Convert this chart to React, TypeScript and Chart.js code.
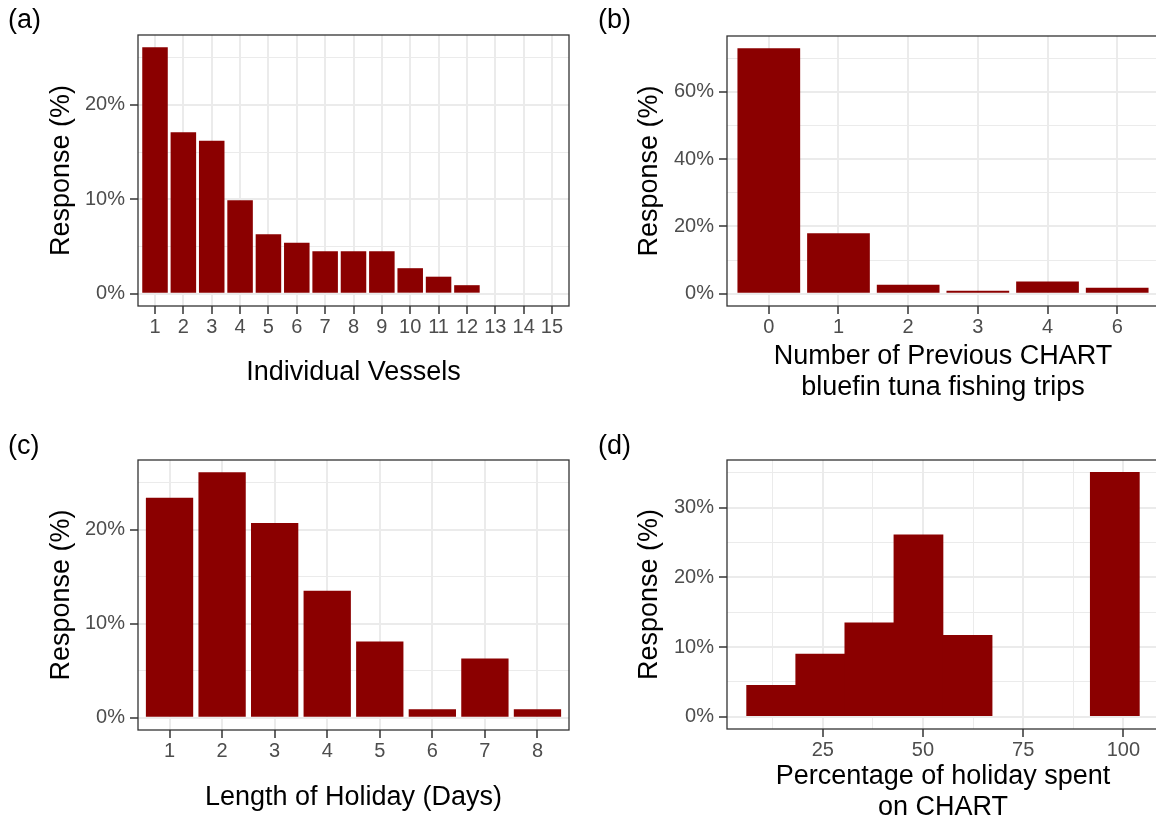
import React, { useEffect, useRef } from 'react';
import { Chart, registerables } from 'chart.js';

Chart.register(...registerables);

const FONT = '"Liberation Sans", Arial, Helvetica, sans-serif';
const BAR_COLOR = '#8B0000';
const TICK_COLOR = '#4D4D4D';
const GRID_COLOR = '#EBEBEB';
const LINE_COLOR = '#333333';

// (a) Individual Vessels
const vesselCategories = ['1', '2', '3', '4', '5', '6', '7', '8', '9', '10', '11', '12', '13', '14', '15'];
const vesselResponse = [26.1, 17.1, 16.2, 9.9, 6.3, 5.4, 4.5, 4.5, 4.5, 2.7, 1.8, 0.9, 0, 0, 0];
const vesselYMajor = [0, 10, 20];
const vesselYMinor = [5, 15, 25];

// (b) Number of previous CHART bluefin tuna fishing trips
const tripCategories = ['0', '1', '2', '3', '4', '6'];
const tripResponse = [73.0, 18.0, 2.7, 0.9, 3.6, 1.8];
const tripYMajor = [0, 20, 40, 60];
const tripYMinor = [10, 30, 50, 70];

// (c) Length of holiday (days)
const holidayCategories = ['1', '2', '3', '4', '5', '6', '7', '8'];
const holidayResponse = [23.4, 26.1, 20.7, 13.5, 8.1, 0.9, 6.3, 0.9];
const holidayYMajor = [0, 10, 20];
const holidayYMinor = [5, 15, 25];

// (d) Percentage of holiday spent on CHART (histogram)
const shareBinCenters = [12.125, 24.375, 36.625, 48.875, 61.125, 73.375, 85.625, 97.875];
const shareResponse = [4.5, 9.0, 13.5, 26.1, 11.7, 0, 0, 35.1];
const shareXMajor = [25, 50, 75, 100];
const shareXMinor = [12.5, 37.5, 62.5, 87.5];
const shareYMajor = [0, 10, 20, 30];
const shareYMinor = [5, 15, 25, 35];

type Layout = {
  key: string;
  panelLabel: string;
  left: number;
  top: number;
  width: number;
  height: number;
  padTop: number;
  padRight: number;
  yAxisWidth: number;
  xAxisHeight: number;
  xTitle: string | string[];
  xTitlePad: number;
  yTitlePad: number;
  labelLeft: number;
  labelTop: number;
};

const boxPlugin = {
  id: 'panelBox',
  afterDraw(chart: any) {
    const { ctx, chartArea } = chart;
    ctx.save();
    ctx.strokeStyle = LINE_COLOR;
    ctx.lineWidth = 1.3;
    ctx.strokeRect(chartArea.left, chartArea.top, chartArea.right - chartArea.left, chartArea.bottom - chartArea.top);
    ctx.restore();
  },
};

const barFill = (ctx: any) => (ctx.raw && ctx.raw.y === 0 ? 'rgba(0,0,0,0)' : BAR_COLOR);

function yScale(major: number[], minor: number[], values: number[], L: Layout) {
  const vmax = Math.max(...values);
  const min = -vmax * 0.05;
  const max = vmax * 1.05;
  return {
    type: 'linear',
    position: 'left',
    min,
    max,
    afterBuildTicks: (axis: any) => {
      axis.ticks = [...major, ...minor]
        .filter((v) => v >= min && v <= max)
        .sort((a, b) => a - b)
        .map((v) => ({ value: v }));
    },
    afterFit: (axis: any) => {
      axis.width = L.yAxisWidth;
    },
    ticks: {
      callback: (v: any) => (major.includes(v) ? `${v}%` : ''),
      color: TICK_COLOR,
      font: { size: 20, family: FONT },
      padding: 5,
      autoSkip: false,
    },
    grid: {
      color: GRID_COLOR,
      lineWidth: (ctx: any) => (ctx.tick && major.includes(ctx.tick.value) ? 2 : 1),
      tickColor: (ctx: any) => (ctx.tick && major.includes(ctx.tick.value) ? LINE_COLOR : 'rgba(0,0,0,0)'),
      tickWidth: 1.5,
      tickLength: 8,
      drawTicks: true,
    },
    border: { display: false },
    title: {
      display: true,
      text: 'Response (%)',
      color: '#000',
      font: { size: 27, family: FONT, lineHeight: 1.15 },
      padding: { top: L.yTitlePad, bottom: 0 },
    },
  };
}

function xScale(
  min: number,
  max: number,
  major: number[],
  minor: number[],
  label: (v: number) => string,
  L: Layout
) {
  return {
    type: 'linear',
    position: 'bottom',
    min,
    max,
    offset: false,
    afterBuildTicks: (axis: any) => {
      axis.ticks = [...major, ...minor]
        .filter((v) => v >= min && v <= max)
        .sort((a, b) => a - b)
        .map((v) => ({ value: v }));
    },
    afterFit: (axis: any) => {
      axis.height = L.xAxisHeight;
    },
    ticks: {
      callback: (v: any) => (major.includes(v) ? label(v) : ''),
      color: TICK_COLOR,
      font: { size: 20, family: FONT },
      padding: 1,
      autoSkip: false,
      maxRotation: 0,
      minRotation: 0,
    },
    grid: {
      offset: false,
      color: GRID_COLOR,
      lineWidth: (ctx: any) => (ctx.tick && major.includes(ctx.tick.value) ? 2 : 1),
      tickColor: (ctx: any) => (ctx.tick && major.includes(ctx.tick.value) ? LINE_COLOR : 'rgba(0,0,0,0)'),
      tickWidth: 1.5,
      tickLength: 8,
      drawTicks: true,
    },
    border: { display: false },
    title: {
      display: true,
      text: L.xTitle,
      color: '#000',
      font: { size: 27, family: FONT, lineHeight: 1.15 },
      padding: { top: 0, bottom: L.xTitlePad },
    },
  };
}

function baseOptions(L: Layout, scales: any) {
  return {
    responsive: false,
    maintainAspectRatio: false,
    animation: false,
    events: [],
    layout: { padding: { top: L.padTop, right: L.padRight, left: 0, bottom: 0 } },
    plugins: { legend: { display: false }, tooltip: { enabled: false }, title: { display: false } },
    scales,
  };
}

function categoryConfig(categories: string[], values: number[], yMajor: number[], yMinor: number[], L: Layout) {
  const positions = categories.map((_, i) => i + 1);
  return {
    type: 'bar',
    data: {
      datasets: [
        {
          data: values.map((v, i) => ({ x: positions[i], y: v })),
          backgroundColor: barFill,
          borderWidth: 0,
          barPercentage: 0.9,
          categoryPercentage: 1,
        },
      ],
    },
    options: baseOptions(L, {
      x: xScale(0.4, categories.length + 0.6, positions, [], (v) => categories[v - 1], L),
      y: yScale(yMajor, yMinor, values, L),
    }),
    plugins: [boxPlugin],
  };
}

function histogramConfig(L: Layout) {
  const bw = shareBinCenters[1] - shareBinCenters[0];
  const lo = shareBinCenters[0] - bw / 2;
  const hi = shareBinCenters[shareBinCenters.length - 1] + bw / 2;
  const pad = (hi - lo) * 0.05;
  return {
    type: 'bar',
    data: {
      datasets: [
        {
          data: shareResponse.map((v, i) => ({ x: shareBinCenters[i], y: v })),
          backgroundColor: barFill,
          borderWidth: 0,
          barPercentage: 1,
          categoryPercentage: 1,
        },
      ],
    },
    options: baseOptions(L, {
      x: xScale(lo - pad, hi + pad, shareXMajor, shareXMinor, (v) => String(v), L),
      y: yScale(shareYMajor, shareYMinor, shareResponse, L),
    }),
    plugins: [boxPlugin],
  };
}

const layoutA: Layout = {
  key: 'a', panelLabel: '(a)', left: 0, top: 0, width: 578, height: 410,
  padTop: 35, padRight: 9, yAxisWidth: 138, xAxisHeight: 104,
  xTitle: 'Individual Vessels', xTitlePad: 21.5, yTitlePad: 46.5, labelLeft: 8, labelTop: 6,
};
const layoutB: Layout = {
  key: 'b', panelLabel: '(b)', left: 578, top: 0, width: 600, height: 410,
  padTop: 36, padRight: 19, yAxisWidth: 149, xAxisHeight: 104,
  xTitle: ['Number of Previous CHART', 'bluefin tuna fishing trips'], xTitlePad: 7, yTitlePad: 56.5,
  labelLeft: 20, labelTop: 6,
};
const layoutC: Layout = {
  key: 'c', panelLabel: '(c)', left: 0, top: 415, width: 578, height: 410,
  padTop: 45, padRight: 9, yAxisWidth: 138, xAxisHeight: 95,
  xTitle: 'Length of Holiday (Days)', xTitlePad: 11.5, yTitlePad: 46.5, labelLeft: 8, labelTop: 17,
};
const layoutD: Layout = {
  key: 'd', panelLabel: '(d)', left: 578, top: 415, width: 600, height: 410,
  padTop: 45, padRight: 19, yAxisWidth: 149, xAxisHeight: 96,
  xTitle: ['Percentage of holiday spent', 'on CHART'], xTitlePad: 1.5, yTitlePad: 56.5,
  labelLeft: 20, labelTop: 17,
};

function Panel({ L, build }: { L: Layout; build: (L: Layout) => any }) {
  const ref = useRef<HTMLCanvasElement>(null);
  useEffect(() => {
    const chart = new Chart(ref.current as HTMLCanvasElement, build(L) as any);
    return () => chart.destroy();
  }, []);
  return (
    <div style={{ position: 'absolute', left: L.left, top: L.top, width: L.width, height: L.height }}>
      <canvas ref={ref} width={L.width} height={L.height} style={{ width: L.width, height: L.height, display: 'block' }} />
      <div
        style={{
          position: 'absolute',
          left: L.labelLeft,
          top: L.labelTop,
          fontFamily: FONT,
          fontSize: 27,
          lineHeight: 1,
          color: '#000',
          whiteSpace: 'nowrap',
        }}
      >
        {L.panelLabel}
      </div>
    </div>
  );
}

export default function App() {
  return (
    <div
      style={{
        position: 'fixed',
        left: 0,
        top: 0,
        width: 1156,
        height: 825,
        overflow: 'hidden',
        background: '#fff',
      }}
    >
      <Panel L={layoutA} build={(L) => categoryConfig(vesselCategories, vesselResponse, vesselYMajor, vesselYMinor, L)} />
      <Panel L={layoutB} build={(L) => categoryConfig(tripCategories, tripResponse, tripYMajor, tripYMinor, L)} />
      <Panel L={layoutC} build={(L) => categoryConfig(holidayCategories, holidayResponse, holidayYMajor, holidayYMinor, L)} />
      <Panel L={layoutD} build={(L) => histogramConfig(L)} />
    </div>
  );
}
